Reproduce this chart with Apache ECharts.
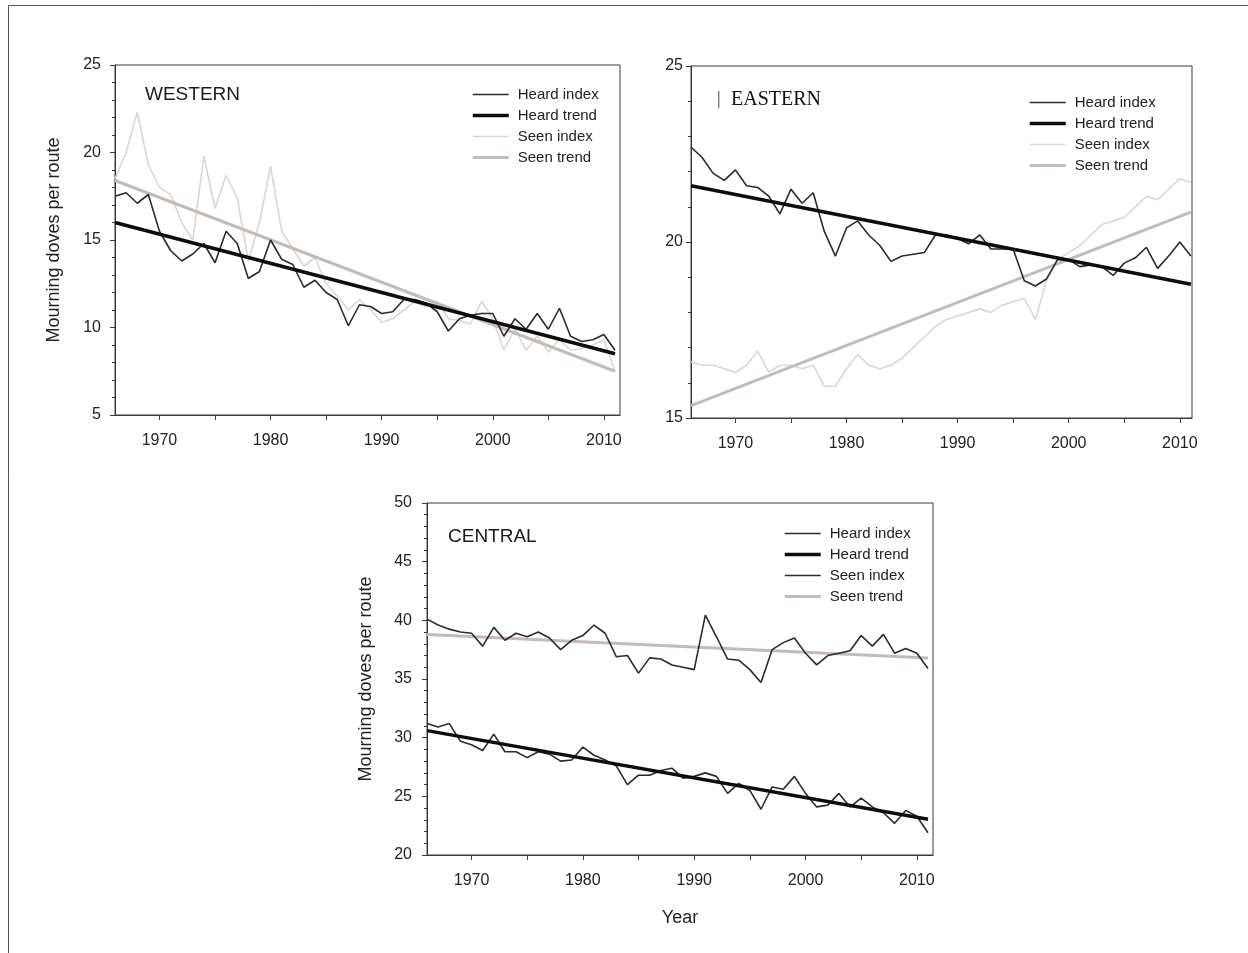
<!DOCTYPE html>
<html>
<head>
<meta charset="utf-8">
<script src="https://cdn.jsdelivr.net/npm/echarts@6/dist/echarts.min.js"></script>
<style>
html,body{margin:0;padding:0;background:#fff;}
#chart{width:1248px;height:953px;}
</style>
</head>
<body>
<div id="chart"></div>
<script>
// ---------- DATA ----------
const years = [1966,1967,1968,1969,1970,1971,1972,1973,1974,1975,1976,1977,1978,1979,1980,1981,1982,1983,1984,1985,1986,1987,1988,1989,1990,1991,1992,1993,1994,1995,1996,1997,1998,1999,2000,2001,2002,2003,2004,2005,2006,2007,2008,2009,2010,2011];
const trendYears = [1966, 2011];
const xTickLabels = [1970, 1980, 1990, 2000, 2010];
const xMinorTicks = [1970, 1975, 1980, 1985, 1990, 1995, 2000, 2005, 2010];

// Western
const westHeardIndex = [17.5,17.7,17.1,17.6,15.5,14.4,13.8,14.2,14.8,13.7,15.5,14.8,12.8,13.2,15.0,13.9,13.6,12.3,12.7,12.0,11.6,10.1,11.3,11.2,10.8,10.9,11.6,11.6,11.4,10.9,9.8,10.5,10.7,10.8,10.8,9.5,10.5,9.9,10.8,9.9,11.1,9.5,9.2,9.3,9.6,8.7];
const westSeenIndex = [18.5,20.0,22.3,19.3,18.0,17.6,16.0,15.0,19.8,16.8,18.7,17.4,13.8,16.0,19.2,15.5,14.5,13.5,14.0,12.5,11.8,11.0,11.6,11.0,10.3,10.5,11.0,11.5,11.2,11.5,10.5,10.4,10.2,11.5,10.5,8.7,9.9,8.7,9.5,8.6,9.3,8.7,8.8,9.0,9.3,7.5];
const westHeardTrend = [16.0, 8.5];
const westSeenTrend = [18.4, 7.5];

// Eastern
const eastHeardIndex = [22.7,22.4,21.95,21.75,22.05,21.6,21.55,21.3,20.8,21.5,21.1,21.4,20.3,19.6,20.4,20.6,20.2,19.9,19.45,19.6,19.65,19.7,20.2,20.2,20.1,19.95,20.2,19.8,19.8,19.8,18.9,18.75,18.95,19.5,19.5,19.3,19.35,19.3,19.05,19.4,19.55,19.85,19.25,19.6,20.0,19.6];
const eastSeenIndex = [16.6,16.5,16.5,16.4,16.3,16.5,16.9,16.3,16.5,16.5,16.4,16.5,15.9,15.9,16.4,16.8,16.5,16.4,16.5,16.7,17.0,17.3,17.6,17.8,17.9,18.0,18.1,18.0,18.2,18.3,18.4,17.8,18.9,19.5,19.7,19.9,20.2,20.5,20.6,20.7,21.0,21.3,21.2,21.5,21.8,21.7];
const eastHeardTrend = [21.6, 18.8];
const eastSeenTrend = [15.35, 20.85];

// Central
const centHeardIndex = [31.2,30.9,31.2,29.7,29.4,28.9,30.3,28.8,28.8,28.3,28.8,28.6,28.0,28.1,29.2,28.5,28.1,27.6,26.0,26.8,26.8,27.2,27.4,26.55,26.7,27.0,26.7,25.25,26.1,25.5,23.9,25.8,25.6,26.7,25.25,24.1,24.25,25.25,24.1,24.85,24.1,23.6,22.7,23.8,23.3,21.9];
const centSeenIndex = [40.1,39.6,39.25,39.0,38.9,37.8,39.4,38.3,38.9,38.6,39.0,38.5,37.5,38.3,38.7,39.6,38.9,36.9,37.0,35.5,36.8,36.7,36.2,36.0,35.8,40.45,38.6,36.7,36.6,35.8,34.7,37.5,38.1,38.5,37.2,36.2,37.0,37.2,37.4,38.7,37.8,38.8,37.2,37.6,37.2,35.9];
const centHeardTrend = [30.6, 23.05];
const centSeenTrend = [38.8, 36.8];

const legendNames = ['Heard index', 'Heard trend', 'Seen index', 'Seen trend'];
const centLegendNames = ['Heard index ', 'Heard trend ', 'Seen index ', 'Seen trend '];

// ---------- STYLE ----------
const FONT = '"Liberation Sans", Arial, sans-serif';
const C_DARK = '#2b2b2b';
const C_BLACK = '#0d0d0d';
const C_SEEN_IDX = '#dcd5d5';
const C_SEEN_TR = '#c6bab6';
const AXIS_C = '#3a3a3a';
const W_IDX = 1.6, W_TREND = 3.5, W_SEEN_TR = 3;
const legendWidths = [W_IDX, W_TREND, W_IDX, W_SEEN_TR];

const pair = (xs, ys) => xs.map((x, i) => [x, ys[i]]);

function xAxis(gridIndex, max, withName) {
  const ax = {
    type: 'value', gridIndex, min: 1966, max,
    axisLine: {show: true, lineStyle: {color: AXIS_C, width: 1}},
    axisTick: {show: true, length: 5, customValues: xMinorTicks, lineStyle: {color: AXIS_C}},
    axisLabel: {customValues: xTickLabels, formatter: v => String(Math.round(v)),
      color: '#222', fontFamily: FONT, fontSize: 16, margin: 18},
    splitLine: {show: false}
  };
  if (withName) {
    ax.name = 'Year'; ax.nameLocation = 'middle'; ax.nameGap = 54;
    ax.nameTextStyle = {color: '#222', fontFamily: FONT, fontSize: 18};
  }
  return ax;
}
function yAxis(gridIndex, min, max, margin, withName) {
  const ax = {
    type: 'value', gridIndex, min, max, interval: 5,
    axisLine: {show: true, lineStyle: {color: AXIS_C, width: 1}},
    axisTick: {show: true, length: 5, lineStyle: {color: AXIS_C}},
    minorTick: {show: true, splitNumber: 5, length: 3, lineStyle: {color: AXIS_C}},
    axisLabel: {color: '#222', fontFamily: FONT, fontSize: 16, margin},
    splitLine: {show: false}
  };
  if (withName) {
    ax.name = 'Mourning doves per route'; ax.nameLocation = 'middle'; ax.nameGap = 52;
    ax.nameTextStyle = {color: '#222', fontFamily: FONT, fontSize: 18};
  }
  return ax;
}
function line(name, idx, data, color, width) {
  return {
    name, type: 'line', xAxisIndex: idx, yAxisIndex: idx, data,
    symbol: 'none', smooth: false, silent: true, animation: false,
    lineStyle: {color, width}, itemStyle: {color}
  };
}
function legend(names, left, top) {
  return {
    data: names.map((n, i) => ({name: n, lineStyle: {width: legendWidths[i]}})),
    left, top, orient: 'vertical', itemWidth: 36, itemHeight: 14, itemGap: 6,
    selectedMode: false,
    itemStyle: {opacity: 0},
    lineStyle: {width: 'inherit'},
    formatter: n => n.trim(),
    textStyle: {color: '#222', fontFamily: FONT, fontSize: 15, padding: [0, 0, 0, 4], lineHeight: 14}
  };
}

const chart = echarts.init(document.getElementById('chart'), null, {renderer: 'canvas'});
const gridBox = {show: true, borderColor: AXIS_C, borderWidth: 1, backgroundColor: 'transparent'};

chart.setOption({
  animation: false,
  backgroundColor: '#fff',
  grid: [
    Object.assign({left: 115, top: 65, width: 505, height: 350}, gridBox),
    Object.assign({left: 691, top: 66, width: 501, height: 352}, gridBox),
    Object.assign({left: 427, top: 503, width: 506, height: 352}, gridBox)
  ],
  xAxis: [xAxis(0, 2011.45, false), xAxis(1, 2011.1, false), xAxis(2, 2011.45, true)],
  yAxis: [yAxis(0, 5, 25, 14, true), yAxis(1, 15, 25, 8, false), yAxis(2, 20, 50, 15, true)],
  legend: [
    legend(legendNames, 466, 82),
    legend(legendNames, 1023, 90),
    legend(centLegendNames, 778, 521)
  ],
  series: [
    line('Seen index', 0, pair(years, westSeenIndex), C_SEEN_IDX, W_IDX),
    line('Seen trend', 0, pair(trendYears, westSeenTrend), C_SEEN_TR, W_SEEN_TR),
    line('Heard index', 0, pair(years, westHeardIndex), C_DARK, W_IDX),
    line('Heard trend', 0, pair(trendYears, westHeardTrend), C_BLACK, W_TREND),

    line('Seen index', 1, pair(years, eastSeenIndex), C_SEEN_IDX, W_IDX),
    line('Seen trend', 1, pair(trendYears, eastSeenTrend), C_SEEN_TR, W_SEEN_TR),
    line('Heard index', 1, pair(years, eastHeardIndex), C_DARK, W_IDX),
    line('Heard trend', 1, pair(trendYears, eastHeardTrend), C_BLACK, W_TREND),

    line('Seen trend ', 2, pair(trendYears, centSeenTrend), C_SEEN_TR, W_SEEN_TR),
    line('Seen index ', 2, pair(years, centSeenIndex), C_DARK, W_IDX),
    line('Heard index ', 2, pair(years, centHeardIndex), C_DARK, W_IDX),
    line('Heard trend ', 2, pair(trendYears, centHeardTrend), C_BLACK, W_TREND)
  ],
  graphic: [
    {type: 'line', shape: {x1: 8.5, y1: 5.5, x2: 1248, y2: 5.5}, style: {stroke: '#555', lineWidth: 1}, silent: true},
    {type: 'line', shape: {x1: 8.5, y1: 5.5, x2: 8.5, y2: 953}, style: {stroke: '#555', lineWidth: 1}, silent: true},
    {type: 'text', left: 145, top: 85, silent: true,
     style: {text: 'WESTERN', fill: '#1a1a1a', font: '19px "Liberation Sans", Arial, sans-serif'}},
    {type: 'text', left: 717, top: 90, silent: true,
     style: {text: '|', fill: '#333', font: '18px "Liberation Serif", "Times New Roman", serif'}},
    {type: 'text', left: 731, top: 90, silent: true,
     style: {text: 'EASTERN', fill: '#111', font: '20px "Liberation Serif", "Times New Roman", serif'}},
    {type: 'text', left: 448, top: 527, silent: true,
     style: {text: 'CENTRAL', fill: '#1a1a1a', font: '19px "Liberation Sans", Arial, sans-serif'}}
  ]
});
</script>
</body>
</html>
